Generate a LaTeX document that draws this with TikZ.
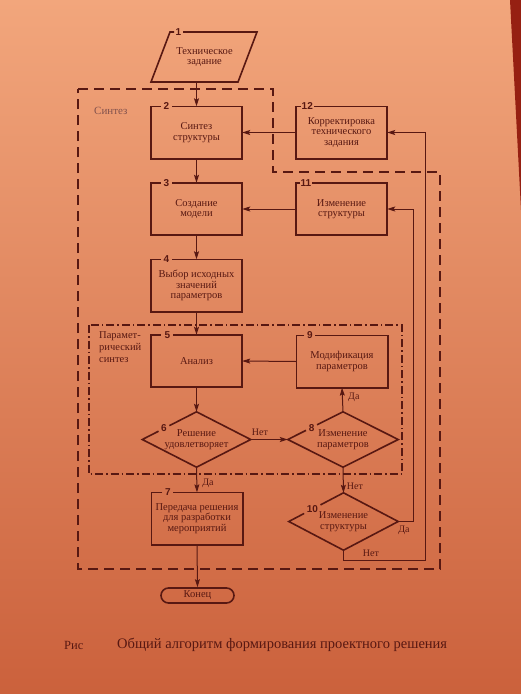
\documentclass[tikz,border=0pt]{standalone}
\usepackage{fontspec}
\setmainfont{Liberation Serif}
\newfontfamily\numfont{Liberation Sans}
\usetikzlibrary{calc,arrows.meta,shapes.geometric}
\definecolor{ink}{RGB}{88,24,18}
\definecolor{bgtop}{RGB}{242,166,124}
\definecolor{bgmid}{RGB}{226,131,93}
\definecolor{bgbot}{RGB}{203,97,60}
\definecolor{paperedge}{RGB}{150,32,18}
\tikzset{
  txt/.style={text=ink, font=\fontsize{10.5}{10.5}\selectfont, align=center},
  procbox/.style={txt, minimum width=91pt, minimum height=52pt, inner sep=0pt},
  decbox/.style={txt, diamond, aspect=2, minimum width=108pt, minimum height=55pt, inner sep=0pt},
  endbox/.style={txt, draw=ink, line width=1.6pt, rounded corners=7.5pt, minimum width=73pt, minimum height=15pt, inner sep=0pt},
  boxline/.style={draw=ink, line width=1.6pt, line join=miter},
  numlbl/.style={text=ink, font=\numfont\bfseries\fontsize{10}{10}\selectfont, inner sep=0pt},
  lbl/.style={text=ink, font=\fontsize{10}{10}\selectfont, inner sep=0pt},
  arr/.style={draw=ink, line width=1pt, -{Stealth[length=8pt,width=5pt,inset=1.5pt]}},
  regdash/.style={draw=ink, line width=1.4pt, dash pattern=on 10pt off 6pt},
  regdashdot/.style={draw=ink, line width=1.2pt, dash pattern=on 8pt off 3pt on 1.5pt off 3pt},
}
\newcommand{\rectborder}[3]{\draw[boxline] ([xshift=#2pt]#1.north west) -- (#1.north west) |- (#1.south east) |- ([xshift=#3pt]#1.north west);}
\newcommand{\numat}[3]{\node[numlbl] at ([xshift=#2pt]#1.north west) {#3};}
\newcommand{\diaborder}[3]{\draw[boxline] ($(#1.west)!#3!(#1.north)$) -- (#1.north) -- (#1.east) -- (#1.south) -- (#1.west) -- ($(#1.west)!#2!(#1.north)$);}
\begin{document}
\begin{tikzpicture}[x=1pt,y=-1pt]
\useasboundingbox (0,0) rectangle (521,694);
\fill[top color=bgtop, middle color=bgmid, bottom color=bgbot] (0,0) rectangle (521,694);
\fill[paperedge] (510,0) -- (521,0) -- (521,210) -- cycle;

% regions
\draw[regdash] (78,89) -- (273,89) -- (273,172) -- (440,172) -- (440,569) -- (78,569) -- cycle;
\draw[regdashdot] (89,325) rectangle (402,474);
\node[text=ink!75, font=\fontsize{11}{11}\selectfont, anchor=west, inner sep=0pt] (lsyn) at (94,111) {Синтез};
\node[text=ink, font=\fontsize{10.5}{12}\selectfont, anchor=north west, align=left, inner sep=0pt] (lpar) at (99,331) {Парамет-\\рический\\синтез};

% nodes
\node[txt, minimum width=60pt, minimum height=50pt, inner sep=0pt] (n1) at (204.5,57) {Техническое\\задание};
\draw[boxline] (174,32) -- (170,32) -- (151,82) -- (238,82) -- (257,32) -- (183,32);
\node[numlbl] at (178.5,32) {1};

\node[procbox] (n2) at (196.5,132.5) {Синтез\\структуры};
\node[procbox] (n12) at (341.5,132.5) {Корректировка\\технического\\задания};
\node[procbox] (n3) at (196.5,209) {Создание\\модели};
\node[procbox] (n11) at (341.5,209) {Изменение\\структуры};
\node[procbox] (n4) at (196.5,285.5) {Выбор исходных\\значений\\параметров};
\node[procbox] (n5) at (196.5,361) {Анализ};
\node[procbox] (n9) at (342,361.5) {Модификация\\параметров};
\node[decbox] (d6) at (196.5,439.5) {Решение\\удовлетворяет};
\node[decbox, minimum width=110pt] (d8) at (343,439.5) {Изменение\\параметров};
\node[procbox] (n7) at (197,518.5) {Передача решения\\для разработки\\мероприятий};
\node[decbox, minimum width=109pt, minimum height=57pt] (d10) at (343.5,521.5) {Изменение\\структуры};
\node[endbox] (end) at (197.5,595.5) {Конец};

% borders with numbers
\rectborder{n2}{10}{21}   \numat{n2}{15.5}{2}
\rectborder{n12}{5}{18}   \numat{n12}{11.5}{12}
\rectborder{n3}{10}{21}   \numat{n3}{15.5}{3}
\rectborder{n11}{4}{16}   \numat{n11}{10}{11}
\rectborder{n4}{10}{21}   \numat{n4}{15.5}{4}
\rectborder{n5}{10}{22}   \numat{n5}{16.5}{5}
\rectborder{n9}{8}{19}    \numat{n9}{13.5}{9}
\rectborder{n7}{11}{22}   \numat{n7}{16.5}{7}
\diaborder{d6}{0.30}{0.50}
\node[numlbl] at ($(d6.west)!0.40!(d6.north)$) {6};
\diaborder{d8}{0.33}{0.53}
\node[numlbl] at ($(d8.west)!0.43!(d8.north)$) {8};
\diaborder{d10}{0.28}{0.58}
\node[numlbl] at ($(d10.west)!0.43!(d10.north)$) {10};

% connectors
\draw[arr] (n1.south -| n2.north) -- (n2.north);
\draw[arr] (n12.west) -- (n2.east);
\draw[arr] (n2.south) -- (n3.north);
\draw[arr] (n11.west) -- (n3.east);
\draw[arr] (n3.south) -- (n4.north);
\draw[arr] (n4.south) -- (n5.north);
\draw[arr] (n9.west) -- (n5.east);
\draw[arr] (n5.south) -- (d6.north);
\draw[arr] (d6.east) -- (d8.west);
\draw[arr] (d8.north) -- (n9.south);
\draw[arr] (d6.south) -- (n7.north);
\draw[arr] (d8.south) -- (d10.north);
\draw[arr] (n7.south) -- (end.north);
\coordinate (rDa) at (413,521.5);
\coordinate (rNet) at (425,560);
\draw[arr] (d10.east) -- (rDa) |- (n11.east);
\draw[arr] (d10.south) |- (rNet) |- (n12.east);

% connector labels
\node[lbl] at (260,432) {Нет};
\node[lbl, anchor=west] at (348,397) {Да};
\node[lbl] at (208,483) {Да};
\node[lbl] at (355,486) {Нет};
\node[lbl] at (404,530) {Да};
\node[lbl] at (371,553) {Нет};

% caption
\node[text=ink, font=\fontsize{12.5}{13}\selectfont, anchor=west, inner sep=0pt] (cap0) at (64,645) {Рис};
\node[text=ink, font=\fontsize{14.5}{15}\selectfont, anchor=west, inner sep=0pt] (cap1) at (117,645) {Общий алгоритм формирования проектного решения};
\end{tikzpicture}
\end{document}
